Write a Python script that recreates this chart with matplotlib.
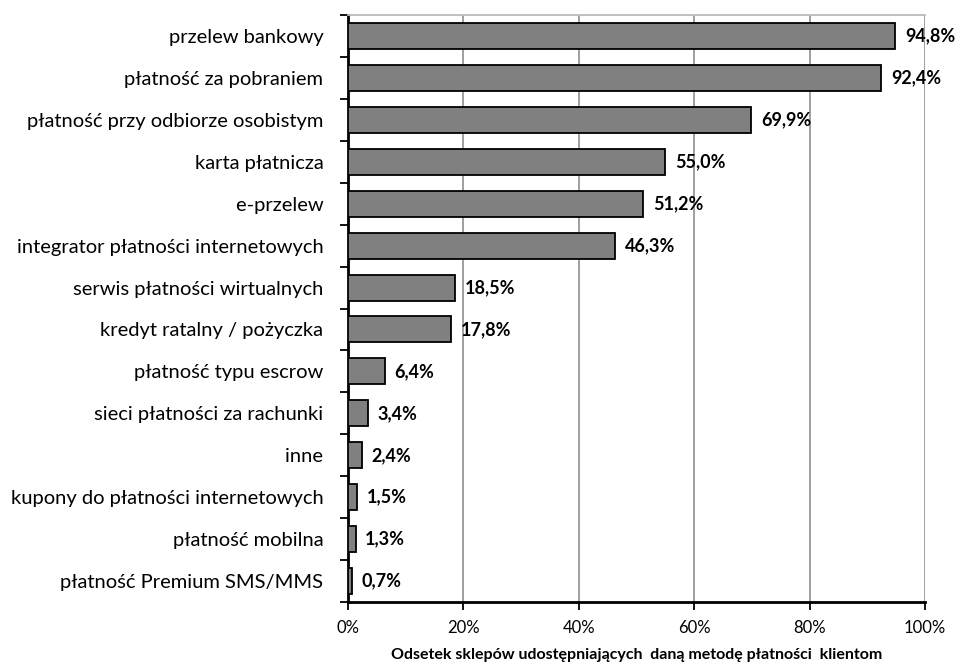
import matplotlib.pyplot as plt
from matplotlib.ticker import FuncFormatter, FixedLocator

# Metody płatności i odsetek sklepów
METODY = ['przelew bankowy', 'płatność za pobraniem', 'płatność przy odbiorze osobistym',
          'karta płatnicza', 'e-przelew', 'integrator płatności internetowych',
          'serwis płatności wirtualnych', 'kredyt ratalny / pożyczka', 'płatność typu escrow',
          'sieci płatności za rachunki', 'inne', 'kupony do płatności internetowych',
          'płatność mobilna', 'płatność Premium SMS/MMS']
ODSETEK = [94.8, 92.4, 69.9, 55.0, 51.2, 46.3, 18.5, 17.8, 6.4, 3.4, 2.4, 1.5, 1.3, 0.7]
X_TICKS = [0, 20, 40, 60, 80, 100]
XLABEL = 'Odsetek sklepów udostępniających  daną metodę płatności  klientom'

plt.rcParams['font.family'] = ['Lato', 'DejaVu Sans']

fig = plt.figure(figsize=(9.56, 6.65), dpi=100)
ax = fig.add_axes([348 / 956, 63 / 665, 577 / 956, 587 / 665])

n = len(METODY)
pos = list(range(n))
ax.barh(pos, ODSETEK, height=0.62, color='#808080', edgecolor='black', linewidth=1.3, zorder=3)

for p, v in zip(pos, ODSETEK):
    ax.text(v + 1.7, p, f'{v:.1f}%'.replace('.', ','), va='center', ha='left',
            fontsize=13, fontweight='bold', zorder=4)

ax.set_ylim(n - 0.5, -0.5)
ax.set_xlim(0, 100)
ax.set_yticks(pos)
ax.set_yticklabels([m + ' ' for m in METODY], fontsize=14.5)
ax.tick_params(axis='y', length=0, pad=14)
# kreski podziału między kategoriami
ax.yaxis.set_minor_locator(FixedLocator([i - 0.5 for i in range(n + 1)]))
ax.tick_params(axis='y', which='minor', length=6, width=1.3, direction='out')

ax.set_xticks(X_TICKS)
ax.xaxis.set_major_formatter(FuncFormatter(lambda x, _: f'{x:.0f}%'))
ax.tick_params(axis='x', length=6, width=1.3, direction='out', labelsize=12, pad=7)
ax.grid(axis='x', color='#999999', linewidth=1.3, zorder=0)

ax.spines['left'].set_linewidth(2)
ax.spines['bottom'].set_linewidth(2)
ax.spines['right'].set_visible(False)
ax.spines['top'].set_color('#bbbbbb')
ax.spines['top'].set_linewidth(1.3)

ax.set_xlabel(XLABEL, fontsize=11.5, fontweight='bold', va='center')
ax.xaxis.set_label_coords(0.5, -53 / 587)

fig.savefig('out.png', dpi=100)
